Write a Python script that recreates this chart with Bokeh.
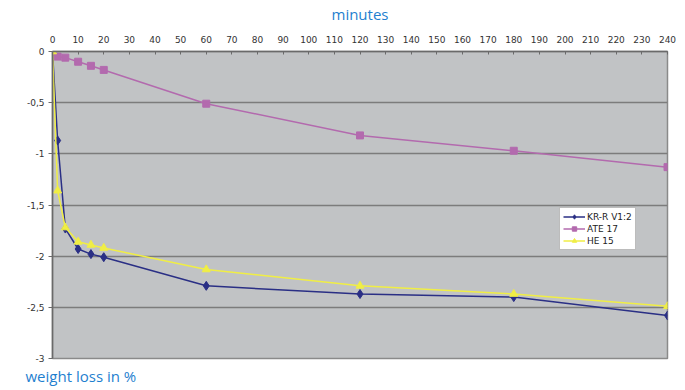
from bokeh.plotting import figure
from bokeh.models import Range1d, LinearAxis, FixedTicker, Title, Legend, LegendItem
from bokeh.embed import file_html
from bokeh.resources import INLINE

minutes = [0, 2, 5, 10, 15, 20, 60, 120, 180, 240]
kr_r = [0, -0.87, -1.73, -1.93, -1.98, -2.01, -2.29, -2.37, -2.40, -2.58]
ate17 = [0, -0.05, -0.06, -0.10, -0.14, -0.18, -0.51, -0.82, -0.97, -1.13]
he15 = [0, -1.36, -1.72, -1.86, -1.89, -1.92, -2.13, -2.29, -2.37, -2.49]
x_ticks = list(range(0, 250, 10))
y_ticks = [0, -0.5, -1, -1.5, -2, -2.5, -3]
y_labels = ["0", "-0,5", "-1", "-1,5", "-2", "-2,5", "-3"]

p = figure(width=685, height=390, output_backend="svg", toolbar_location=None,
           x_range=Range1d(0, 240), y_range=Range1d(-3, 0),
           x_axis_location=None, y_axis_location=None,
           min_border_left=52, min_border_right=18, min_border_top=51, min_border_bottom=32)
p.background_fill_color = "#c1c3c5"
p.border_fill_color = "white"
p.outline_line_color = "#8a8a8a"
p.outline_line_width = 1.5

xa = LinearAxis(ticker=FixedTicker(ticks=x_ticks), axis_label="minutes")
xa.major_label_text_font = "DejaVu Sans"
xa.major_label_text_font_size = "9px"
xa.major_label_text_color = "#333333"
xa.axis_line_color = "#6a6a6a"
xa.axis_line_width = 1.5
xa.major_tick_in = 3
xa.major_tick_out = 0
xa.major_tick_line_color = "#6a6a6a"
xa.minor_tick_line_color = None
xa.major_label_standoff = 9
xa.axis_label_text_font = "Open Sans"
xa.axis_label_text_font_style = "normal"
xa.axis_label_text_font_size = "15px"
xa.axis_label_text_color = "#1f7fcf"
xa.axis_label_standoff = 9
p.add_layout(xa, "above")

ya = LinearAxis(ticker=FixedTicker(ticks=y_ticks))
ya.major_label_overrides = {t: l for t, l in zip(y_ticks, y_labels)}
ya.major_label_text_font = "DejaVu Sans"
ya.major_label_text_font_size = "9px"
ya.major_label_text_color = "#333333"
ya.axis_line_color = "#6a6a6a"
ya.axis_line_width = 1.5
ya.major_tick_out = 4
ya.major_tick_in = 0
ya.major_tick_line_color = "#6a6a6a"
ya.minor_tick_line_color = None
ya.major_label_standoff = 4
p.add_layout(ya, "left")

p.xgrid.grid_line_color = None
p.ygrid.ticker = FixedTicker(ticks=y_ticks)
p.ygrid.grid_line_color = "#7c7c7c"
p.ygrid.grid_line_width = 1.5

c_kr = "#2a2f85"
c_ate = "#b36aae"
c_he = "#f0ee45"

l1 = p.line(minutes, kr_r, line_color=c_kr, line_width=1.5)
m1 = p.scatter(minutes, kr_r, marker="diamond", size=9, fill_color=c_kr, line_color=c_kr)
l2 = p.line(minutes, ate17, line_color=c_ate, line_width=1.5)
m2 = p.scatter(minutes, ate17, marker="square", size=7, fill_color=c_ate, line_color=c_ate)
l3 = p.line(minutes, he15, line_color=c_he, line_width=1.5)
m3 = p.scatter(minutes, he15, marker="triangle", size=8, fill_color=c_he, line_color=c_he)

legend = Legend(items=[LegendItem(label="KR-R V1:2", renderers=[l1, m1]),
                       LegendItem(label="ATE 17", renderers=[l2, m2]),
                       LegendItem(label="HE 15", renderers=[l3, m3])],
                location=(507, 108))
legend.label_text_font = "DejaVu Sans"
legend.label_text_font_size = "9px"
legend.label_text_color = "#222222"
legend.glyph_width = 22
legend.glyph_height = 11
legend.label_height = 11
legend.spacing = 1
legend.padding = 3
legend.margin = 0
legend.label_standoff = 2
legend.border_line_color = "#7a7a7a"
legend.background_fill_color = "white"
legend.background_fill_alpha = 1
p.add_layout(legend, "center")

wl = Title(text="weight loss in %", align="left", offset=-27, standoff=10,
           text_color="#1f7fcf", text_font="Open Sans", text_font_size="15px",
           text_font_style="normal")
p.add_layout(wl, "below")

open("out.html", "w").write(file_html(p, INLINE))
